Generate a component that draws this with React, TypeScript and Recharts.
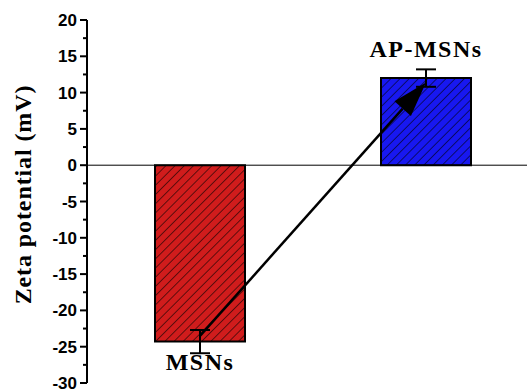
import React from "react";
import {
  BarChart,
  Bar,
  XAxis,
  YAxis,
  Cell,
  ErrorBar,
  LabelList,
  ReferenceLine,
} from "recharts";

const categories = ["MSNs", "AP-MSNs"];
const zetaValues = [-24.3, 12.0];
const zetaErrors = [1.6, 1.2];
const barColors = ["#d01c1c", "#1818f0"];
const majorTicks = [-30, -25, -20, -15, -10, -5, 0, 5, 10, 15, 20];
const minorTicks = [-27.5, -22.5, -17.5, -12.5, -7.5, -2.5, 2.5, 7.5, 12.5, 17.5];
// arrow from the MSNs bar up to the AP-MSNs bar
const arrowFrom = { x: "MSNs", y: -23.5 };
const arrowTo = { x: "AP-MSNs", y: 11.4 };

const data = categories.map((name, i) => ({
  name,
  zeta: zetaValues[i],
  err: zetaErrors[i],
}));

const allTicks = [...majorTicks, ...minorTicks].sort((a, b) => a - b);

const serif = "'Liberation Serif', 'Times New Roman', serif";
const sans = "'Liberation Sans', Arial, sans-serif";

const YTick = ({ x, y, payload }: any) => {
  const major = majorTicks.includes(payload.value);
  return (
    <g>
      <line
        x1={x - (major ? 7 : 4)}
        x2={x}
        y1={y}
        y2={y}
        stroke="#000"
        strokeWidth={2}
      />
      {major && (
        <text
          x={x - 10}
          y={y}
          dy={6}
          textAnchor="end"
          fontFamily={sans}
          fontWeight={700}
          fontSize={17}
          fill="#000"
        >
          {payload.value}
        </text>
      )}
    </g>
  );
};

const YTitle = ({ viewBox }: any) => {
  const cx = 31;
  const cy = viewBox.y + viewBox.height / 2 - 7;
  return (
    <text
      x={cx}
      y={cy}
      transform={`rotate(-90, ${cx}, ${cy})`}
      textAnchor="middle"
      fontFamily={serif}
      fontWeight={700}
      fontSize={24}
      letterSpacing={0.9}
      fill="#000"
    >
      Zeta potential (mV)
    </text>
  );
};

const BarName = ({ x, y, width, height, value }: any) => {
  const top = Math.min(y, y + height);
  const bottom = Math.max(y, y + height);
  const neg = value === "MSNs";
  return (
    <text
      x={x + width / 2}
      y={neg ? bottom + 28 : top - 21}
      textAnchor="middle"
      fontFamily={serif}
      fontWeight={700}
      fontSize={24}
      letterSpacing={1.5}
      fill="#000"
    >
      {value}
    </text>
  );
};

const Arrow = ({ x1, y1, x2, y2 }: any) => {
  const dx = x2 - x1;
  const dy = y2 - y1;
  const len = Math.sqrt(dx * dx + dy * dy) || 1;
  const ux = dx / len;
  const uy = dy / len;
  const headLen = 35;
  const half = 11;
  const bx = x2 - ux * headLen;
  const by = y2 - uy * headLen;
  return (
    <g>
      <line
        x1={x1}
        y1={y1}
        x2={bx}
        y2={by}
        stroke="#000"
        strokeWidth={2.5}
      />
      <polygon
        points={`${x2},${y2} ${bx - uy * half},${by + ux * half} ${bx + uy * half},${by - ux * half}`}
        fill="#000"
      />
    </g>
  );
};

export default function App() {
  return (
    <div
      style={{
        position: "fixed",
        left: 0,
        top: 0,
        width: 527,
        height: 390,
        overflow: "hidden",
        background: "#fff",
      }}
    >
      <BarChart
        width={560}
        height={390}
        data={data}
        margin={{ top: 20, right: 21, bottom: 7, left: 0 }}
      >
        <defs>
          {barColors.map((c, i) => (
            <pattern
              key={i}
              id={`hatch-${i}`}
              patternUnits="userSpaceOnUse"
              width={6.5}
              height={6.5}
              patternTransform="rotate(45)"
            >
              <rect width={6.5} height={6.5} fill={c} />
              <line x1={0} y1={0} x2={0} y2={6.5} stroke="#000" strokeWidth={1.1} />
            </pattern>
          ))}
        </defs>
        <XAxis
          dataKey="name"
          tick={false}
          tickLine={false}
          height={0}
          axisLine={{ stroke: "#000", strokeWidth: 2 }}
        />
        <XAxis
          xAxisId="top"
          orientation="top"
          dataKey="name"
          tick={false}
          tickLine={false}
          height={0}
          axisLine={{ stroke: "#000", strokeWidth: 2 }}
        />
        <YAxis
          type="number"
          domain={[-30, 20]}
          ticks={allTicks}
          interval={0}
          width={87}
          tickSize={0}
          tickMargin={0}
          tickLine={false}
          tick={<YTick />}
          axisLine={{ stroke: "#000", strokeWidth: 2 }}
          label={<YTitle />}
        />
        <ReferenceLine y={0} stroke="#000" strokeWidth={1} />
        <Bar
          dataKey="zeta"
          barSize={90}
          stroke="#000"
          strokeWidth={2}
          isAnimationActive={false}
        >
          {data.map((_, i) => (
            <Cell key={i} fill={`url(#hatch-${i})`} />
          ))}
          <ErrorBar dataKey="err" width={10} stroke="#000" strokeWidth={2} />
          <LabelList dataKey="name" content={<BarName />} />
        </Bar>
        <ReferenceLine
          segment={[arrowFrom, arrowTo]}
          shape={<Arrow />}
          ifOverflow="visible"
        />
      </BarChart>
    </div>
  );
}
